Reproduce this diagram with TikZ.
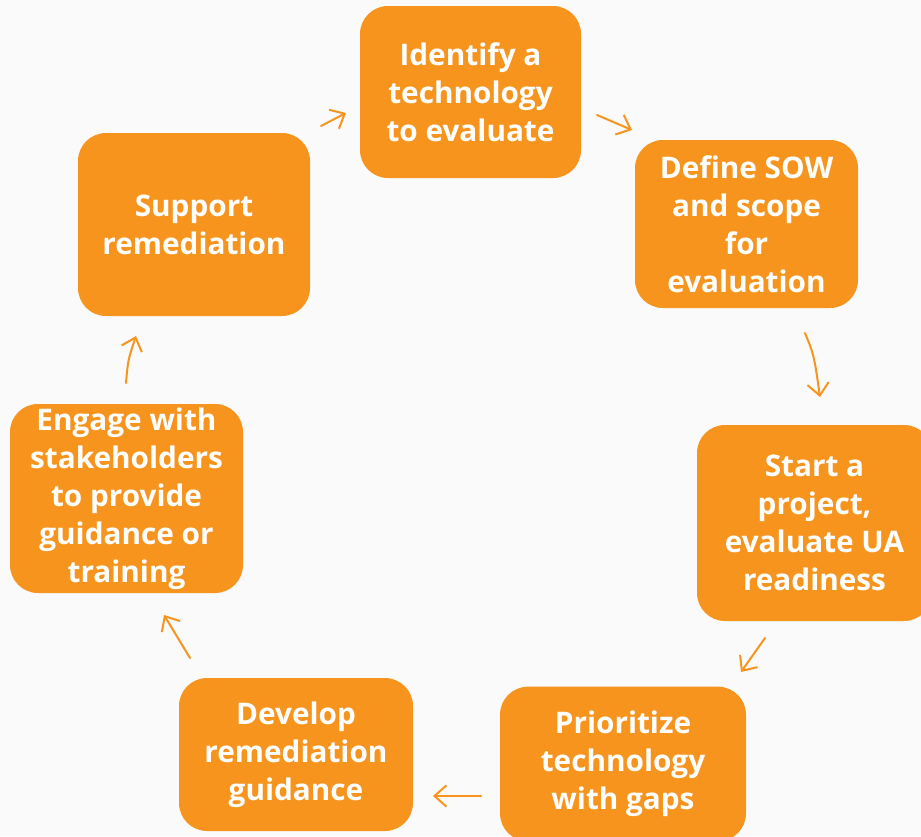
\documentclass[tikz,border=0pt]{standalone}
\usepackage{fontspec}
\setmainfont{Open Sans}
\usetikzlibrary{arrows.meta}
\definecolor{boxorange}{HTML}{F7941E}
\definecolor{bgcol}{HTML}{FAFAFA}
\begin{document}
\begin{tikzpicture}[x=0.75pt,y=-0.75pt,
  stepbox/.style={fill=boxorange,draw=none,rounded corners=21pt,text=white,
    font=\bfseries\fontsize{22.3}{28.5}\selectfont,align=center,inner sep=0pt},
  flow/.style={draw=boxorange,line width=1.5pt,line cap=round,
    -{Straight Barb[length=9pt,width=16pt,line width=1.5pt]}}]
\path[use as bounding box,fill=bgcol] (0,0) rectangle (921,836);
\begin{scope}
\clip (0,0) rectangle (921,836);
\node[stepbox,minimum width=165.75pt,minimum height=129pt] (b1) at (470.5,92) {Identify a\\technology\\to evaluate};
\node[stepbox,minimum width=167.25pt,minimum height=126pt] (b2) at (746.5,224) {Define SOW\\and scope\\for\\evaluation};
\node[stepbox,minimum width=176.25pt,minimum height=147pt] (b3) at (814.5,523) {Start a\\project,\\evaluate UA\\readiness};
\node[stepbox,minimum width=184.5pt,minimum height=116pt] (b4) at (623,764) {Prioritize\\technology\\with gaps};
\node[stepbox,minimum width=175.5pt,minimum height=114.75pt] (b5) at (296,754.5) {Develop\\remediation\\guidance};
\node[stepbox,minimum width=174.75pt,minimum height=141.75pt] (b6) at (126.5,498.5) {Engage with\\stakeholders\\to provide\\guidance or\\training};
\node[stepbox,minimum width=174pt,minimum height=137.25pt] (b7) at (194,224.5) {Support\\remediation};
\end{scope}
\coordinate (a1s) at (321,126); \coordinate (a1e) at (346,113);
\coordinate (a2s) at (597,115); \coordinate (a2e) at (632,130);
\coordinate (a3s) at (805,333); \coordinate (a3e) at (820,397);
\coordinate (a4s) at (765,638); \coordinate (a4e) at (741,672);
\coordinate (a5s) at (481,796); \coordinate (a5e) at (433,796);
\coordinate (a6s) at (190,658); \coordinate (a6e) at (164,615);
\coordinate (a7s) at (126,383); \coordinate (a7e) at (136,336);
\draw[flow] (a1s) -- (a1e);
\draw[flow] (a2s) -- (a2e);
\draw[flow] (a3s) .. controls (814,355) .. (a3e);
\draw[flow] (a4s) -- (a4e);
\draw[flow] (a5s) -- (a5e);
\draw[flow] (a6s) -- (a6e);
\draw[flow] (a7s) .. controls (128,360) .. (a7e);
\end{tikzpicture}
\end{document}
